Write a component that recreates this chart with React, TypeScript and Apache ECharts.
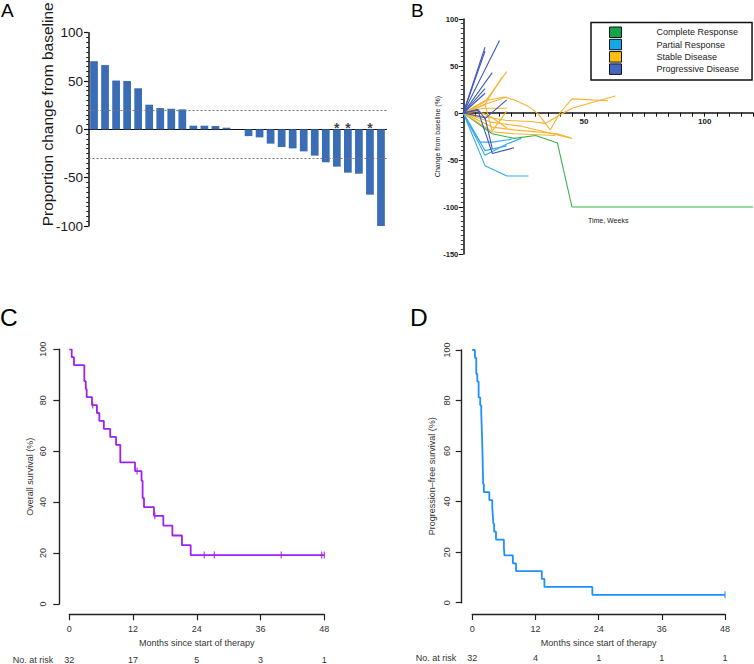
import React, { useEffect, useRef } from 'react';
import * as echarts from 'echarts';

const FONT = '"Liberation Sans", Arial, Helvetica, sans-serif';

// ---------- Panel A: waterfall ----------
const barCategories = ['1', '2', '3', '4', '5', '6', '7', '8', '9', '10', '11', '12', '13', '14', '15', '16', '17', '18', '19', '20', '21', '22', '23', '24', '25', '26', '27'];
const barValues = [70.5, 66.5, 50.5, 50, 42.5, 25.5, 22, 21.3, 20.7, 3.8, 3.8, 3.4, 1.7, 0, -7, -8.3, -14.8, -18.3, -19.7, -22.8, -27.2, -34.1, -38.6, -44.8, -45.9, -67.6, -100];
const asteriskBars = ['23', '24', '26'];
const thresholds = [20, -30];

// ---------- Panel B: spider plot (weeks, % change) ----------
const completeResponse = [
  [[0, 0], [12, -22], [21, -27], [30, -24], [39, -32], [45, -100], [120, -100]],
];
const partialResponse = [
  [[0, 0], [9, -56], [18, -67], [27, -67]],
  [[0, 0], [9, -45], [18, -33], [24, -27]],
  [[0, 0], [7, -31], [12, -31], [20, -28]],
  [[0, 0], [9, -40], [18, -35]],
];
const stableDisease = [
  [[0, 0], [9, 12], [18, 44]],
  [[0, 0], [9, 9], [16, 38]],
  [[0, 0], [10, 10], [18, 17]],
  [[0, 0], [8, 5], [18, 5]],
  [[0, 0], [9, 13], [17, 17], [21, 14], [27, 7], [31, -1], [36, -18], [40, 0], [45, 15], [60, 13]],
  [[0, 0], [9, -4], [18, -8], [28, -9], [34, -11], [45, 5], [63, 18]],
  [[0, 0], [12, -15], [21, -18], [39, -22], [44, -26]],
  [[0, 0], [12, -10], [24, -14], [45, -27]],
  [[0, 0], [9, 9], [12, -19], [18, 2]],
  [[0, 0], [12, -20], [21, -22], [38, -24]],
  [[0, 0], [6, 2], [12, -5], [18, -16]],
];
const progressiveDisease = [
  [[0, 0], [15, 77]],
  [[0, 0], [9, 70]],
  [[0, 0], [9, 66]],
  [[0, 0], [12, 43]],
  [[0, 0], [9, 26]],
  [[0, 0], [9, 21]],
  [[0, 0], [6, 4], [9, -6], [18, 14]],
  [[0, 0], [6, 3], [12, -43], [21, -37]],
  [[0, 0], [9, -5], [12, -38]],
];
const responseGroups = [
  { name: 'Complete Response', line: '#35b54c', legend: '#14a44c', data: completeResponse },
  { name: 'Partial Response', line: '#35aaea', legend: '#14a7e6', data: partialResponse },
  { name: 'Stable Disease', line: '#f8b330', legend: '#fcbf12', data: stableDisease },
  { name: 'Progressive Disease', line: '#3b57bb', legend: '#4468c2', data: progressiveDisease },
];

// ---------- Panels C & D: Kaplan-Meier ----------
const osTimes = [0, 0.45, 0.88, 2.83, 3.1, 3.27, 4.27, 5.2, 5.65, 6.5, 7.7, 8.8, 9.6, 12.37, 13.6, 13.8, 14.06, 15.94, 17.7, 19.4, 21.2, 22.85, 48];
const osSurvival = [100, 96.9, 93.75, 87.5, 84.4, 81.25, 78.1, 75, 71.9, 68.75, 65.6, 62.5, 55.6, 52.2, 48.4, 41.6, 38, 34.6, 30.8, 26.9, 23.1, 19.2, 19.2];
const osCensored = [4.4, 12.75, 16.1, 25.4, 27.3, 39.9, 47.5, 48];

const pfsTimes = [0, 0.5, 0.75, 0.95, 1.2, 1.5, 1.7, 1.75, 1.8, 1.85, 1.9, 1.93, 1.96, 2.0, 2.03, 2.06, 2.2, 3.23, 3.8, 3.9, 4.0, 4.15, 4.5, 6.0, 6.1, 7.7, 8.3, 13.2, 13.7, 22.8, 48];
const pfsSurvival = [100, 96.9, 90.6, 87.5, 81.25, 78.1, 75, 71.9, 68.75, 65.6, 62.5, 59.4, 56.25, 53.1, 50, 46.9, 43.75, 40.6, 37.5, 34.4, 31.25, 28.1, 25, 21.9, 18.75, 15.6, 12.5, 9.4, 6.25, 3.1, 3.1];
const pfsCensored = [48];

const riskTimes = [0, 12, 24, 36, 48];
const osAtRisk = [32, 17, 5, 3, 1];
const pfsAtRisk = [32, 4, 1, 1, 1];

const stepAt = (times: number[], surv: number[], t: number) => {
  let v = surv[0];
  for (let i = 0; i < times.length; i++) if (times[i] <= t) v = surv[i];
  return v;
};

const txt = '#333';

function kmAxes(grid: number, yName: string, yGap: number, labelMargin: number, xOffset: number, yOffset: number, riskOffset: number, risk: number[]) {
  const x = {
    type: 'value', gridIndex: grid, min: 0, max: 48, interval: 12, position: 'bottom', offset: xOffset,
    axisLine: { show: true, onZero: false, lineStyle: { color: '#222', width: 1.4 } },
    axisTick: { show: true, length: 6, lineStyle: { color: '#222', width: 1.2 } },
    splitLine: { show: false },
    axisLabel: { fontSize: 9, color: txt, margin: 10.5, fontFamily: FONT },
    name: 'Months since start of therapy', nameLocation: 'middle', nameGap: 24.5, nameMoveOverlap: false,
    nameTextStyle: { fontSize: 9, color: txt, fontFamily: FONT },
  };
  const xr = {
    type: 'value', gridIndex: grid, min: 0, max: 48, interval: 12, position: 'bottom', offset: riskOffset,
    axisLine: { show: false, onZero: false }, axisTick: { show: false }, splitLine: { show: false },
    axisLabel: { fontSize: 9, lineHeight: 10, color: txt, margin: 0, fontFamily: FONT, formatter: (v: number) => String(risk[riskTimes.indexOf(v)] ?? '') },
    name: 'No. at risk', nameLocation: 'start', nameGap: 16, nameMoveOverlap: false,
    nameTextStyle: { fontSize: 9, lineHeight: 10, color: txt, fontFamily: FONT, verticalAlign: 'top' },
  };
  const y = {
    type: 'value', gridIndex: grid, min: 0, max: 100, interval: 20, offset: yOffset,
    axisLine: { show: true, onZero: false, lineStyle: { color: '#222', width: 1.4 } },
    axisTick: { show: true, length: 6, lineStyle: { color: '#222', width: 1.2 } },
    splitLine: { show: false },
    axisLabel: { fontSize: 9, color: txt, margin: labelMargin, rotate: 90, fontFamily: FONT },
    name: yName, nameLocation: 'middle', nameGap: yGap, nameMoveOverlap: false,
    nameTextStyle: { fontSize: 9, color: txt, fontFamily: FONT },
  };
  return { x, xr, y };
}

function buildOption() {
  const c = kmAxes(2, 'Overall survival (%)', 25, 12, 10.3, 10, 50.8, osAtRisk);
  const d = kmAxes(3, 'Progression\u2013free survival (%)', 25, 10.5, 11.3, 10.6, 50.3, pfsAtRisk);

  const spiderSeries: any[] = [];
  responseGroups.forEach((g) => {
    g.data.forEach((pts) => {
      spiderSeries.push({
        type: 'line', name: g.name, xAxisIndex: 1, yAxisIndex: 1, data: pts,
        symbol: 'none', showSymbol: false, silent: true,
        lineStyle: { color: g.line, width: 1.1 }, itemStyle: { color: g.legend },
      });
    });
  });

  const panelTitle = (text: string, left: number, top: number, size: number) => ({
    text, left, top, padding: 0,
    textStyle: { fontSize: size, fontWeight: 'normal', color: '#000', fontFamily: FONT },
  });

  return {
    animation: false,
    backgroundColor: '#fff',
    title: [
      panelTitle('A', 1, 1, 19),
      panelTitle('B', 411, 1, 19),
      panelTitle('C', 0, 305, 24.5),
      panelTitle('D', 410, 305, 24.5),
    ],
    legend: {
      orient: 'vertical', left: 591, top: 22.5,
      padding: [4, 13, 5, 18],
      itemWidth: 12, itemHeight: 10.5, itemGap: 0.8,
      borderColor: '#111', borderWidth: 1.5, selectedMode: false,
      textStyle: { fontSize: 9, color: '#222', fontFamily: FONT, padding: [0, 0, 0, 30], lineHeight: 10.5 },
      data: responseGroups.map((g) => ({
        name: g.name, icon: 'rect',
        itemStyle: { color: g.legend, borderColor: '#111', borderWidth: 1 },
      })),
    },
    grid: [
      { left: 88.5, top: 32.7, width: 298, height: 193.3, outerBoundsMode: 'none' },
      { left: 463.3, top: 19, width: 289.7, height: 235, outerBoundsMode: 'none' },
      { left: 69.3, top: 349.3, width: 255, height: 254.7, outerBoundsMode: 'none' },
      { left: 472.3, top: 350, width: 252.7, height: 252.7, outerBoundsMode: 'none' },
    ],
    xAxis: [
      {
        type: 'category', gridIndex: 0, data: barCategories,
        axisLine: { show: true, onZero: true, lineStyle: { color: '#111', width: 1.2 } },
        axisTick: { show: false }, axisLabel: { show: false }, splitLine: { show: false },
      },
      {
        type: 'value', gridIndex: 1, min: 0, max: 120, interval: 5, position: 'bottom', offset: -141.3,
        axisLine: { show: true, onZero: false, lineStyle: { color: '#111', width: 1.5 } },
        axisTick: { show: true, length: 4, lineStyle: { color: '#111', width: 1 } },
        splitLine: { show: false },
        axisLabel: {
          fontSize: 8, fontWeight: 'bold', color: '#222', margin: 5, fontFamily: FONT, interval: 0,
          formatter: (v: number) => (v > 0 && v % 50 === 0 ? String(v) : ''),
        },
        name: 'Time, Weeks', nameLocation: 'middle', nameGap: 104.5, nameMoveOverlap: false,
        nameTextStyle: { fontSize: 7, color: '#222', fontFamily: FONT },
      },
      c.x, c.xr, d.x, d.xr,
    ],
    yAxis: [
      {
        type: 'value', gridIndex: 0, min: -100, max: 100, interval: 50,
        axisLine: { show: true, onZero: false, lineStyle: { color: '#111', width: 1.5 } },
        axisTick: { show: true, length: 4.5, lineStyle: { color: '#111', width: 1.2 } },
        minorTick: { show: true, splitNumber: 10, length: 2.2, lineStyle: { color: '#111', width: 1 } },
        splitLine: { show: false }, minorSplitLine: { show: false },
        axisLabel: { fontSize: 13.5, color: '#1a1a1a', margin: 5.5, fontFamily: FONT },
        name: 'Proportion change from baseline', nameLocation: 'middle', nameGap: 33, nameMoveOverlap: false,
        nameTextStyle: { fontSize: 15.5, color: '#1a1a1a', fontFamily: FONT, padding: [0, 0, 0, 30] },
      },
      {
        type: 'value', gridIndex: 1, min: -150, max: 100, interval: 50,
        axisLine: { show: true, onZero: false, lineStyle: { color: '#111', width: 1.5 } },
        axisTick: { show: true, length: 4.5, lineStyle: { color: '#111', width: 1 } },
        minorTick: { show: true, splitNumber: 10, length: 2.5, lineStyle: { color: '#111', width: 0.8 } },
        splitLine: { show: false }, minorSplitLine: { show: false },
        axisLabel: { fontSize: 7.5, fontWeight: 'bold', color: '#222', margin: 5, fontFamily: FONT },
        name: 'Change from baseline (%)', nameLocation: 'middle', nameGap: 22, nameMoveOverlap: false,
        nameTextStyle: { fontSize: 7, color: '#222', fontFamily: FONT },
      },
      c.y, d.y,
    ],
    series: [
      {
        type: 'bar', xAxisIndex: 0, yAxisIndex: 0, data: barValues, barWidth: '70%',
        itemStyle: { color: '#3b6cb6' }, silent: true,
        markLine: {
          silent: true, symbol: ['none', 'none'], label: { show: false },
          lineStyle: { color: '#777', type: [2, 2], width: 1 },
          data: thresholds.map((t) => ({ yAxis: t })),
        },
      },
      {
        type: 'scatter', xAxisIndex: 0, yAxisIndex: 0, symbolSize: 1, silent: true,
        itemStyle: { color: 'rgba(0,0,0,0)' },
        data: asteriskBars.map((cat) => [cat, 0]),
        label: {
          show: true, position: 'top', distance: 0, offset: [0, 6], formatter: '*',
          fontSize: 14, fontWeight: 'bold', color: '#111', fontFamily: FONT,
        },
      },
      ...spiderSeries,
      {
        type: 'line', xAxisIndex: 2, yAxisIndex: 2, step: 'end', symbol: 'none', silent: true,
        data: osTimes.map((t, i) => [t, osSurvival[i]]),
        lineStyle: { color: '#A020F0', width: 1.8 },
      },
      {
        type: 'scatter', xAxisIndex: 2, yAxisIndex: 2, symbol: 'rect', symbolSize: [1.3, 7], silent: true,
        itemStyle: { color: '#A020F0' },
        data: osCensored.map((t) => [t, stepAt(osTimes, osSurvival, t)]),
      },
      {
        type: 'line', xAxisIndex: 4, yAxisIndex: 3, step: 'end', symbol: 'none', silent: true,
        data: pfsTimes.map((t, i) => [t, pfsSurvival[i]]),
        lineStyle: { color: '#1E90FF', width: 1.8 },
      },
      {
        type: 'scatter', xAxisIndex: 4, yAxisIndex: 3, symbol: 'rect', symbolSize: [1.3, 7], silent: true,
        itemStyle: { color: '#1E90FF' },
        data: pfsCensored.map((t) => [t, stepAt(pfsTimes, pfsSurvival, t)]),
      },
    ],
  };
}

export default function App() {
  const ref = useRef<HTMLDivElement>(null);
  useEffect(() => {
    if (!ref.current) return;
    const chart = echarts.init(ref.current, null, { renderer: 'svg' });
    chart.setOption(buildOption() as any);
    return () => chart.dispose();
  }, []);
  return (
    <div
      ref={ref}
      style={{ position: 'fixed', left: 0, top: 0, width: 754, height: 664, background: '#fff' }}
    />
  );
}
